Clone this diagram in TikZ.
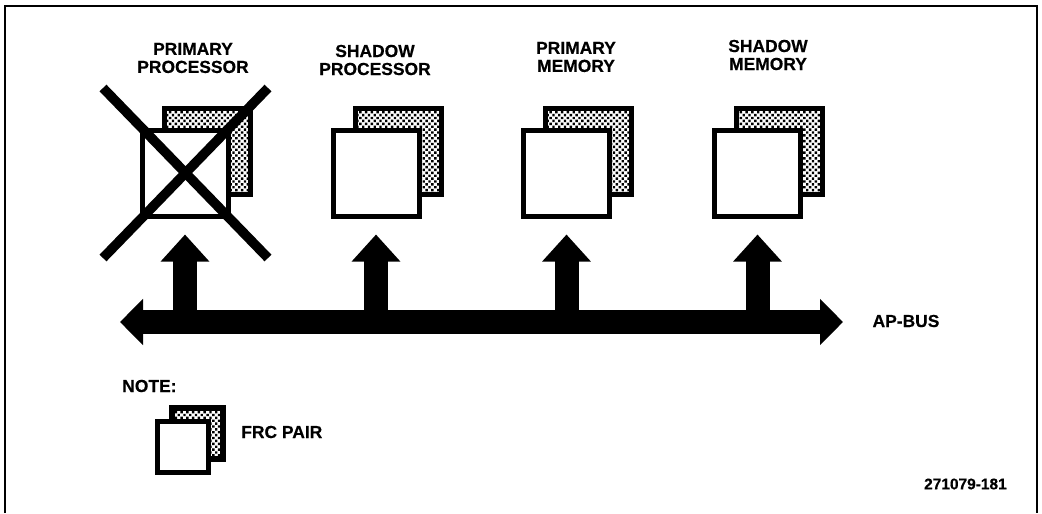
\documentclass[tikz,border=0pt]{standalone}
\usepackage{fontspec}
\setmainfont[BoldFeatures={FakeBold=0.4}]{Liberation Sans}
\usetikzlibrary{arrows.meta,patterns.meta}

\tikzset{
  caption/.style={font=\fontsize{12.4}{12.8}\selectfont\bfseries, align=center, inner sep=0pt},
  frontbox/.style={draw, fill=white, line width=1.25mm, inner sep=0pt, minimum size=#1},
  backbox/.style={draw, pattern={Dots[distance=2.9pt,radius=1.2pt,angle=45]}, line width=1.25mm, inner sep=0pt, minimum size=#1},
  busline/.style={line width=6mm, {Triangle[length=5.75mm,width=11.25mm]}-{Triangle[length=5.75mm,width=11.25mm]}},
  stemline/.style={line width=6mm, -{Triangle[length=6.75mm,width=11.75mm]}, shorten >=4mm},
}

\begin{document}
\begin{tikzpicture}[line cap=butt, line join=miter, x=0.25mm, y=-0.25mm]
  \useasboundingbox (0,0) rectangle (1042,513);
  % frame, open at the bottom
  \draw[line width=0.7mm] (5,513) -- (5,6) -- (1037,6) -- (1037,513);

  % bus
  \coordinate (busleft) at (120,322);
  \coordinate (busright) at (843,322);
  \draw[busline] (busleft) -- (busright);

  % the four pairs
  \foreach \name/\x/\lx/\ly/\txt in {
      priproc/185/193/58/{PRIMARY\\PROCESSOR},
      shaproc/376/375/60/{SHADOW\\PROCESSOR},
      primem/566.5/576/57/{PRIMARY\\MEMORY},
      shamem/757.5/768/55/{SHADOW\\MEMORY}} {
    \node[backbox=21.5mm] (\name-back) at (\x+22,151) {};
    \node[frontbox=21.5mm] (\name) at (\x,173) {};
    \node[caption] (\name-label) at (\lx,\ly) {\txt};
    \draw[stemline] (\name |- busleft) -- (\name.south);
  }

  % failed processor
  \coordinate (crossa) at (103,88);
  \coordinate (crossb) at (268,258);
  \coordinate (crossc) at (268,88);
  \coordinate (crossd) at (103,258);
  \draw[line width=2.4mm] (crossa) -- (crossb);
  \draw[line width=2.4mm] (crossc) -- (crossd);

  \node[caption] (buslabel) at (906,321) {AP-BUS};

  % legend
  \node[caption, anchor=west] (note) at (122,386) {NOTE:};
  \node[backbox=12.75mm, line width=1.5mm] (frc-back) at (197,433.5) {};
  \node[frontbox=12.75mm] (frc) at (183,447) {};
  \node[caption, anchor=west] (frclabel) at (241,432) {FRC PAIR};

  \node[caption, anchor=east, font=\fontsize{11}{12}\selectfont\bfseries] (partno) at (1007,484) {271079-181};
\end{tikzpicture}
\end{document}
